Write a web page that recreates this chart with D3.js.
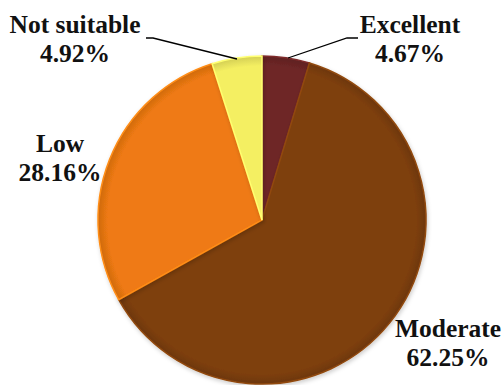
<!DOCTYPE html>
<html><head><meta charset="utf-8">
<script src="https://cdn.jsdelivr.net/npm/d3@7"></script>
<style>body{margin:0;background:#fff}</style>
</head><body>
<svg id="c" width="503" height="385"></svg>
<script>
const categories = ["Excellent", "Moderate", "Low", "Not suitable"];
const values = [4.67, 62.25, 28.16, 4.92];
const labels = ["4.67%", "62.25%", "28.16%", "4.92%"];
const colors = ["#6E2626", "#7E3F0C", "#EF7A12", "#F4EF62"];

const svg = d3.select("#c");
const cx = 262, cy = 220, r = 164;
const defs = svg.append("defs");
colors.forEach((c, i) => {
  const g = defs.append("radialGradient").attr("id", "g" + i)
    .attr("gradientUnits", "userSpaceOnUse").attr("cx", 0).attr("cy", 0).attr("r", r);
  g.append("stop").attr("offset", "0%").attr("stop-color", c);
  g.append("stop").attr("offset", "94%").attr("stop-color", c);
  g.append("stop").attr("offset", "100%").attr("stop-color", d3.color(c).darker(0.4));
});
const f = defs.append("filter").attr("id", "sh").attr("x", "-10%").attr("y", "-10%").attr("width", "120%").attr("height", "120%");
f.append("feDropShadow").attr("dx", 1).attr("dy", 2).attr("stdDeviation", 2).attr("flood-opacity", 0.2);

const pie = d3.pie().sort(null).value(d => d)(values);
const arc = d3.arc().innerRadius(0).outerRadius(r);
const g = svg.append("g").attr("transform", `translate(${cx},${cy})`);
g.selectAll("path").data(pie).join("path")
  .attr("d", arc)
  .attr("fill", (d, i) => `url(#g${i})`)
  .attr("stroke", (d, i) => d3.color(colors[i]).brighter(0.4))
  .attr("stroke-width", 1.5)
  .attr("filter", "url(#sh)");

// leader lines
const line = d3.line();
svg.append("path").attr("d", line([[146, 38], [153, 38], [237, 59]]))
  .attr("fill", "none").attr("stroke", "#000").attr("stroke-width", 1.3);
svg.append("path").attr("d", line([[358, 38], [347, 38], [288, 58]]))
  .attr("fill", "none").attr("stroke", "#000").attr("stroke-width", 1.3);

const labelPos = [[410, 33], [448, 337], [60, 152], [75, 33]];
categories.forEach((c, i) => {
  [c, labels[i]].forEach((s, k) => {
    svg.append("text").attr("x", labelPos[i][0]).attr("y", labelPos[i][1] + k * 29)
      .attr("text-anchor", "middle").attr("fill", "#111")
      .style("font-family", '"Liberation Serif"').style("font-weight", "bold").style("font-size", "25.5px")
      .text(s);
  });
});
</script>
</body></html>
